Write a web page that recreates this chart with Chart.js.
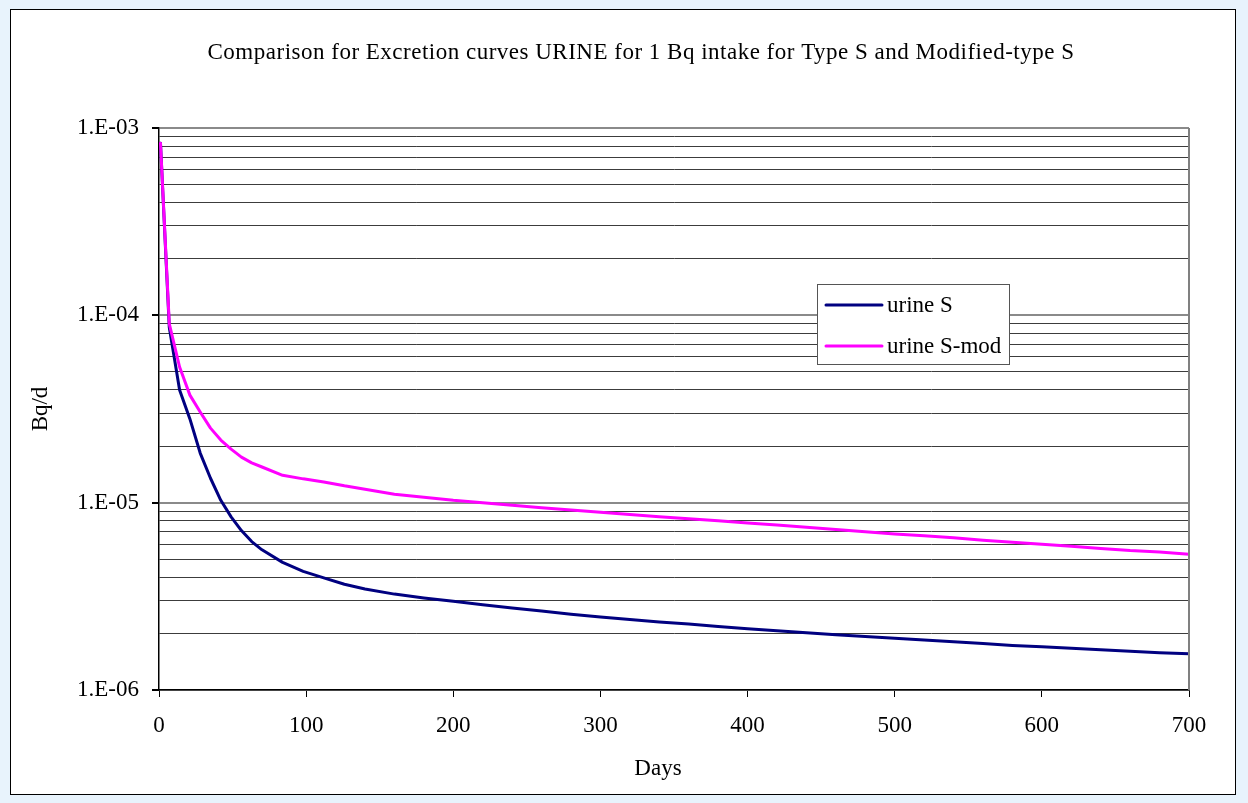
<!DOCTYPE html>
<html>
<head>
<meta charset="utf-8">
<title>Excretion curves URINE</title>
<script src="https://cdn.jsdelivr.net/npm/chart.js@4.4.1/dist/chart.umd.min.js"></script>
<style>
  html, body { margin: 0; padding: 0; background: #e8f3fc; }
  body { width: 1248px; height: 803px; position: relative; overflow: hidden; }
  #frame {
    position: absolute; left: 10px; top: 9px;
    width: 1224px; height: 784px;
    border: 1px solid #000; background: #fff;
  }
  #frame canvas { display: block; }
</style>
</head>
<body>
<div id="frame"><canvas id="chart" width="1224" height="784"></canvas></div>
<script>
// Days after intake at which the excretion rate is tabulated
const days = [1, 7, 14, 21, 28, 35, 42, 49, 56, 63, 70, 84, 98, 112, 126, 140,
  160, 180, 200, 220, 240, 260, 280, 300, 320, 340, 360, 380, 400, 420, 440,
  460, 480, 500, 520, 540, 560, 580, 600, 620, 640, 660, 680, 700];

// Daily urinary excretion (Bq/d) per 1 Bq intake, Type S
const urineS = [8.3e-4, 8.6e-5, 4.0e-5, 2.8e-5, 1.84e-5, 1.35e-5, 1.03e-5, 8.4e-6,
  7.1e-6, 6.2e-6, 5.6e-6, 4.8e-6, 4.3e-6, 3.97e-6, 3.67e-6, 3.46e-6,
  3.25e-6, 3.1e-6, 2.98e-6, 2.85e-6, 2.74e-6, 2.64e-6, 2.54e-6, 2.45e-6,
  2.38e-6, 2.31e-6, 2.25e-6, 2.18e-6, 2.12e-6, 2.07e-6, 2.02e-6, 1.97e-6,
  1.93e-6, 1.89e-6, 1.85e-6, 1.81e-6, 1.77e-6, 1.73e-6, 1.70e-6, 1.67e-6,
  1.64e-6, 1.61e-6, 1.58e-6, 1.56e-6];

// Daily urinary excretion (Bq/d) per 1 Bq intake, modified Type S
const urineSmod = [8.3e-4, 9.0e-5, 5.3e-5, 3.75e-5, 3.05e-5, 2.5e-5, 2.16e-5, 1.93e-5,
  1.75e-5, 1.63e-5, 1.55e-5, 1.40e-5, 1.34e-5, 1.29e-5, 1.23e-5, 1.18e-5,
  1.11e-5, 1.07e-5, 1.03e-5, 1.00e-5, 9.7e-6, 9.4e-6, 9.15e-6, 8.9e-6,
  8.65e-6, 8.4e-6, 8.2e-6, 8.0e-6, 7.8e-6, 7.6e-6, 7.4e-6, 7.2e-6,
  7.0e-6, 6.8e-6, 6.65e-6, 6.5e-6, 6.3e-6, 6.15e-6, 6.0e-6, 5.85e-6,
  5.7e-6, 5.55e-6, 5.45e-6, 5.3e-6];

// Axis ticks
const xTicks = [0, 100, 200, 300, 400, 500, 600, 700];
const yDecades = [1e-6, 1e-5, 1e-4, 1e-3];
const yDecadeLabels = ['1.E-06', '1.E-05', '1.E-04', '1.E-03'];
const yMantissas = [1, 2, 3, 4, 5, 6, 7, 8, 9];

const seriesNames = ['urine S', 'urine S-mod'];
const seriesColors = ['#000080', '#ff00ff'];

const chartTitle = 'Comparison for Excretion curves URINE for 1 Bq intake for Type S and Modified-type S';
const xAxisTitle = 'Days';
const yAxisTitle = 'Bq/d';

const FONT = "'Liberation Serif', 'Times New Roman', serif";

// log gridline values: every mantissa in each decade, plus the top bound
const yGrid = [];
yDecades.slice(0, -1).forEach(d => yMantissas.forEach(m => yGrid.push(m * d)));
yGrid.push(yDecades[yDecades.length - 1]);

function decadeIndex(v) {
  return yDecades.findIndex(d => Math.abs(v - d) / d < 1e-6);
}

// grey frame on the right side of the plot area
const plotFrame = {
  id: 'plotFrame',
  afterDatasetsDraw(chart) {
    const { ctx, chartArea: a } = chart;
    ctx.save();
    ctx.strokeStyle = '#808080';
    ctx.lineWidth = 2;
    ctx.beginPath();
    ctx.moveTo(a.right, a.top);
    ctx.lineTo(a.right, a.bottom);
    ctx.stroke();
    ctx.restore();
  }
};

// chart title and x-axis title, placed like the spreadsheet layout
const headings = {
  id: 'headings',
  afterDraw(chart, args, opts) {
    const { ctx } = chart;
    ctx.save();
    ctx.fillStyle = '#000';
    ctx.textAlign = 'center';
    ctx.textBaseline = 'middle';
    ctx.font = opts.titleFont;
    ctx.letterSpacing = opts.titleSpacing;
    ctx.fillText(opts.title, opts.titleX, opts.titleY);
    ctx.letterSpacing = '0px';
    ctx.font = opts.axisFont;
    ctx.fillText(opts.xTitle, opts.xTitleX, opts.xTitleY);
    ctx.restore();
  }
};

// boxed legend inside the plot area
const boxLegend = {
  id: 'boxLegend',
  afterDatasetsDraw(chart, args, opts) {
    const { ctx } = chart;
    ctx.save();
    ctx.fillStyle = '#fff';
    ctx.fillRect(opts.x, opts.y, opts.w, opts.h);
    ctx.strokeStyle = '#555';
    ctx.lineWidth = 1;
    ctx.strokeRect(opts.x + 0.5, opts.y + 0.5, opts.w, opts.h);
    ctx.font = opts.font;
    ctx.textBaseline = 'middle';
    ctx.textAlign = 'left';
    chart.data.datasets.forEach((ds, i) => {
      const cy = opts.y + opts.firstRow + i * opts.rowGap;
      ctx.strokeStyle = ds.borderColor;
      ctx.lineWidth = 3;
      ctx.lineCap = 'round';
      ctx.beginPath();
      ctx.moveTo(opts.x + 9, cy);
      ctx.lineTo(opts.x + 65, cy);
      ctx.stroke();
      ctx.fillStyle = '#000';
      ctx.fillText(ds.label, opts.x + 70, cy + 1);
    });
    ctx.restore();
  }
};

new Chart(document.getElementById('chart'), {
  type: 'line',
  data: {
    datasets: [
      {
        label: seriesNames[0],
        data: days.map((d, i) => ({ x: d, y: urineS[i] })),
        borderColor: seriesColors[0],
        order: 2
      },
      {
        label: seriesNames[1],
        data: days.map((d, i) => ({ x: d, y: urineSmod[i] })),
        borderColor: seriesColors[1],
        order: 1
      }
    ]
  },
  options: {
    responsive: false,
    animation: false,
    events: [],
    layout: { padding: { left: 0, right: 46, top: 118, bottom: 0 } },
    elements: {
      point: { radius: 0 },
      line: { borderWidth: 3, tension: 0, borderJoinStyle: 'round', borderCapStyle: 'round' }
    },
    plugins: {
      legend: { display: false },
      tooltip: { enabled: false },
      title: { display: false },
      headings: {
        title: chartTitle,
        titleFont: '23px ' + FONT,
        titleSpacing: '0.5px',
        titleX: 630, titleY: 43,
        xTitle: xAxisTitle,
        axisFont: '23px ' + FONT,
        xTitleX: 647, xTitleY: 759
      },
      boxLegend: {
        x: 806, y: 274, w: 192, h: 80, firstRow: 21, rowGap: 41,
        font: '23px ' + FONT
      }
    },
    scales: {
      x: {
        type: 'linear',
        min: 0, max: 700,
        afterFit(scale) { scale.height = 104; },
        afterBuildTicks(scale) { scale.ticks = xTicks.map(v => ({ value: v })); },
        ticks: {
          color: '#000', padding: 15, autoSkip: false, maxRotation: 0,
          font: { family: FONT, size: 23 }
        },
        grid: { drawOnChartArea: false, color: '#000', tickLength: 7, lineWidth: 1 },
        border: { color: '#000', width: 1.5 },
        title: { display: false }
      },
      y: {
        type: 'logarithmic',
        min: yDecades[0], max: yDecades[yDecades.length - 1],
        afterFit(scale) { scale.width = 148; },
        afterBuildTicks(scale) {
          scale.ticks = yGrid.map(v => ({ value: v, major: decadeIndex(v) >= 0 }));
        },
        ticks: {
          color: '#000', padding: 13, autoSkip: false,
          font: { family: FONT, size: 23 },
          callback(value) {
            const k = decadeIndex(value);
            return k >= 0 ? yDecadeLabels[k] : '';
          }
        },
        grid: {
          tickLength: 7,
          color(ctx) { return ctx.tick && decadeIndex(ctx.tick.value) >= 0 ? '#8a8a8a' : '#3c3c3c'; },
          lineWidth(ctx) { return ctx.tick && decadeIndex(ctx.tick.value) >= 0 ? 2 : 1; },
          tickColor(ctx) { return ctx.tick && decadeIndex(ctx.tick.value) >= 0 ? '#000' : 'rgba(0,0,0,0)'; }
        },
        border: { color: '#000', width: 1.5 },
        title: {
          display: true, text: yAxisTitle, color: '#000',
          font: { family: FONT, size: 23, lineHeight: 1.2 },
          padding: { top: 16, bottom: 0 }
        }
      }
    }
  },
  plugins: [plotFrame, boxLegend, headings]
});
</script>
</body>
</html>
